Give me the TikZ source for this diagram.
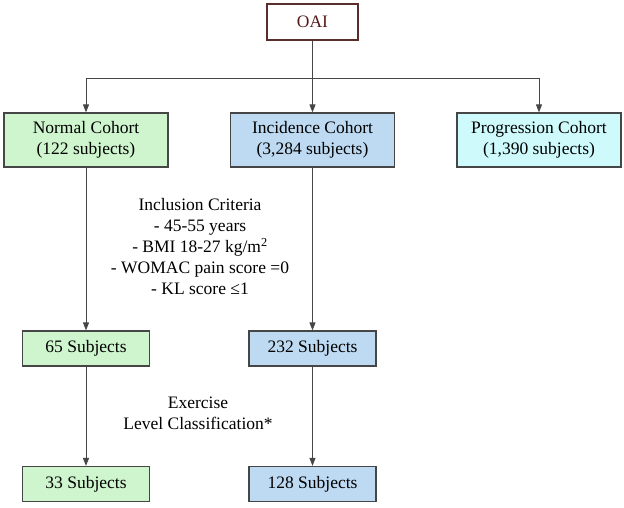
\documentclass[tikz,border=0pt]{standalone}
\usepackage{fontspec}
\setmainfont{Liberation Serif}
\usetikzlibrary{arrows.meta}
\definecolor{boxline}{RGB}{70,70,70}
\definecolor{oailine}{RGB}{90,45,45}
\definecolor{oaitext}{RGB}{85,25,25}
\definecolor{normalgreen}{RGB}{206,245,206}
\definecolor{incidblue}{RGB}{190,218,242}
\definecolor{progcyan}{RGB}{206,250,252}
\begin{document}
\begin{tikzpicture}[x=1pt,y=-1pt,>={Triangle[length=8pt,width=6pt]}]
\tikzstyle{box}=[draw=boxline,line width=1.2pt,align=center,inner sep=0pt,font=\fontsize{17.5}{21}\selectfont]
\tikzstyle{cohort}=[box,minimum width=164pt,minimum height=54pt]
\tikzstyle{count}=[box,minimum width=127pt,minimum height=35pt]
\tikzstyle{note}=[align=center,font=\fontsize{17.5}{21}\selectfont]
\tikzstyle{link}=[draw=boxline,line width=0.9pt]
\useasboundingbox (0,0) rectangle (624,507);
\node [box,draw=oailine,text=oaitext,minimum width=91pt,minimum height=36pt] (oai) at (312.5,22) {OAI};
\node [cohort,fill=normalgreen] (normal) at (86,140) {Normal Cohort\\(122 subjects)};
\node [cohort,fill=incidblue] (incid) at (312.5,140) {Incidence Cohort\\(3,284 subjects)};
\node [cohort,fill=progcyan] (prog) at (539,140) {Progression Cohort\\(1,390 subjects)};
\node [count,fill=normalgreen] (n65) at (86,348.5) {65 Subjects};
\node [count,fill=incidblue] (i232) at (312.5,348.5) {232 Subjects};
\node [count,fill=normalgreen] (n33) at (86,484) {33 Subjects};
\node [count,fill=incidblue] (i128) at (312.5,484) {128 Subjects};
\node [note] (incl) at (200,247) {Inclusion Criteria\\- 45-55 years\\- BMI 18-27 kg/m\textsuperscript{2}\\- WOMAC pain score =0\\- KL score ≤1};
\node [note] (exer) at (198,413) {Exercise\\Level Classification*};
\coordinate (split) at (312.5,78);
\path [link] (oai) -- (split);
\path [link,->] (split) -| (normal);
\path [link,->] (split) -| (prog);
\path [link,->] (split) -- (incid);
\path [link,->] (normal) -- (n65);
\path [link,->] (incid) -- (i232);
\path [link,->] (n65) -- (n33);
\path [link,->] (i232) -- (i128);
\end{tikzpicture}
\end{document}
